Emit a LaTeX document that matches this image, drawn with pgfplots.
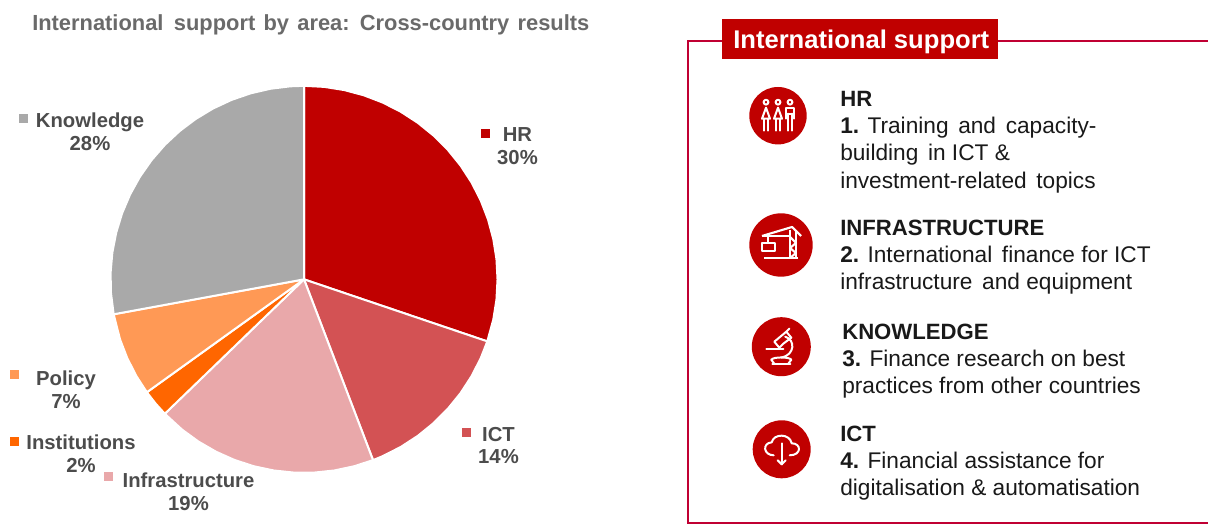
\documentclass[border=0pt]{standalone}
\usepackage{pgfplots}
\pgfplotsset{compat=1.18}
\usepgfplotslibrary{polar}
\usepackage{fontspec}
\setmainfont{Liberation Sans}
\definecolor{cHR}{HTML}{C00000}
\definecolor{cICT}{HTML}{D35254}
\definecolor{cInf}{HTML}{E9A8AA}
\definecolor{cIns}{HTML}{FF6600}
\definecolor{cPol}{HTML}{FF9955}
\definecolor{cKno}{HTML}{A9A9A9}
\definecolor{cTxt}{HTML}{595959}
\definecolor{cFrame}{HTML}{C00033}
\newcommand{\lab}[3]{\node[align=center,font=\fontsize{15.2pt}{17.2pt}\selectfont\bfseries,text=cTxt!85!black,inner sep=0pt] at (axis cs:#1,#2) {#3};}
\newcommand{\rtxt}[4]{\node[anchor=base west,inner sep=0pt,font=\fontsize{#4}{#4}\selectfont,text=black!90] at (axis cs:#1,#2) {#3};}
\newcommand{\key}[3]{\addplot[only marks,mark=square*,mark size=3pt,color=#1] coordinates {(#2,#3)};}
\begin{document}
\begin{tikzpicture}[x=0.75pt,y=0.75pt]
\path[use as bounding box] (0,0) rectangle (1208,525);
\begin{polaraxis}[at={(303.2,245)},anchor=center,scale only axis,width=289.5pt,height=289.5pt,
  hide axis,xmin=0,xmax=360,ymin=0,ymax=193,clip=false]
\addplot[fill=cHR,draw=white,line width=1.5pt] coordinates {(90,0)(90,193)(84,193)(78,193)(72,193)(66,193)(60,193)(54,193)(48,193)(42,193)(36,193)(30,193)(24,193)(18,193)(12,193)(6,193)(0,193)(-6,193)(-12,193)(-18.7,193)(-18.7,0)};
\addplot[fill=cICT,draw=white,line width=1.5pt] coordinates {(-18.7,0)(-18.7,193)(-24,193)(-30,193)(-36,193)(-42,193)(-48,193)(-54,193)(-60,193)(-66,193)(-69.1,193)(-69.1,0)};
\addplot[fill=cInf,draw=white,line width=1.5pt] coordinates {(-69.1,0)(-69.1,193)(-75,193)(-81,193)(-87,193)(-93,193)(-99,193)(-105,193)(-111,193)(-117,193)(-123,193)(-129,193)(-136,193)(-136,0)};
\addplot[fill=cIns,draw=white,line width=1.5pt] coordinates {(-136,0)(-136,193)(-140,193)(-144.3,193)(-144.3,0)};
\addplot[fill=cPol,draw=white,line width=1.5pt] coordinates {(-144.3,0)(-144.3,193)(-150,193)(-156,193)(-162,193)(-169.6,193)(-169.6,0)};
\addplot[fill=cKno,draw=white,line width=1.5pt] coordinates {(-169.6,0)(-169.6,193)(-176,193)(-182,193)(-188,193)(-194,193)(-200,193)(-206,193)(-212,193)(-218,193)(-224,193)(-230,193)(-236,193)(-242,193)(-248,193)(-254,193)(-260,193)(-266,193)(-270,193)(-270,0)};
\end{polaraxis}
\begin{axis}[at={(0,0)},anchor=south west,scale only axis,width=906pt,height=393.75pt,hide axis,
  xmin=0,xmax=1208,ymin=0,ymax=525,y dir=reverse,clip=false]
\key{cHR}{485}{133}
\key{cICT}{466}{432}
\key{cInf}{108}{476}
\key{cIns}{14}{441}
\key{cPol}{14}{374}
\key{cKno}{23}{118}
\lab{517.5}{146.5}{HR\\30\%}
\lab{498.5}{445.5}{ICT\\14\%}
\lab{188.5}{491.5}{Infrastructure\\19\%}
\lab{81}{453.5}{Institutions\\2\%}
\lab{66}{389.5}{Policy\\7\%}
\lab{90}{131.5}{Knowledge\\28\%}
\node[anchor=base west,inner sep=0pt,text=cTxt!90,font=\fontsize{16.4pt}{18pt}\selectfont\bfseries] at (axis cs:32,30) {International\hspace{0.2em} support\hspace{0.1em} by\hspace{0.1em} area:\hspace{0.1em} Cross-country\hspace{0.1em} results};
\draw[cFrame,line width=2.1pt] (axis cs:1208,41)--(axis cs:688,41)--(axis cs:688,523)--(axis cs:1208,523);
\fill[cHR] (axis cs:722,19) rectangle (axis cs:998,59);
\node[anchor=base west,inner sep=0pt,text=white,font=\fontsize{19.2pt}{18pt}\selectfont\bfseries] at (axis cs:733,48) {International support};
\rtxt{840}{106.7}{\textbf{HR}}{16.6pt}
\rtxt{840}{133.7}{\textbf{1.} Training\hspace{0.15em} and\hspace{0.15em} capacity-}{17pt}
\rtxt{840}{160.7}{building\hspace{0.15em} in ICT \&}{17pt}
\rtxt{840}{188.7}{investment-related\hspace{0.15em} topics}{17pt}
\rtxt{840}{235.7}{\textbf{INFRASTRUCTURE}}{16.6pt}
\rtxt{840}{262.7}{\textbf{2.} International\hspace{0.15em} finance for ICT}{17pt}
\rtxt{840}{289.7}{infrastructure\hspace{0.15em} and equipment}{17pt}
\rtxt{842}{339.7}{\textbf{KNOWLEDGE}}{16.6pt}
\rtxt{842}{366.7}{\textbf{3.} Finance research on best}{17pt}
\rtxt{842}{393.7}{practices from other countries}{17pt}
\rtxt{840}{441.7}{\textbf{ICT}}{16.6pt}
\rtxt{840}{468.7}{\textbf{4.} Financial assistance for}{17pt}
\rtxt{840}{495.7}{digitalisation \& automatisation}{17pt}
\end{axis}
% icons, in picture pixels
\fill[cHR] (778,409.3) circle[radius=28.7];
\fill[cHR] (781,280) circle[radius=31.7];
\fill[cHR] (781.3,178.3) circle[radius=29.5];
\fill[cHR] (781.7,75.7) circle[radius=29];
\begin{scope}[shift={(778,409.3)},y=-0.75pt,draw=white,line width=1.5pt,line cap=round,line join=round]
\foreach \d in {-12,0,12}{\draw (\d,-13.5) circle[radius=2.4];}
\foreach \d in {-12,0}{\draw (\d,-8)--(\d-4,3)--(\d+4,3)--cycle; \draw (\d-2,3)--(\d-2,15); \draw (\d+2,3)--(\d+2,15);}
\draw (8,3)--(8,-8)--(16,-8)--(16,3); \draw (8,-2)--(16,-2); \draw (10,-2)--(10,15); \draw (14,-2)--(14,15);
\end{scope}
\begin{scope}[shift={(781,280)},y=-0.75pt,draw=white,line width=1.6pt,line join=round]
\draw (-17,13)--(17,13);
\draw (9,13)--(9,-15); \draw (15,13)--(15,-15);
\draw (9,-8)--(15,-2)--(9,3)--(15,8)--(9,13);
\draw (-19,-9)--(11,-18)--(20,-9);
\draw (-19,-9)--(9,-9);
\draw (-13,-9)--(-13,-2);
\draw (-19,-2) rectangle (-6,6);
\end{scope}
\begin{scope}[shift={(781.3,178.3)},y=-0.75pt,draw=white,line width=1.5pt,line join=round,line cap=round]
\draw (-15,2)--(2,2);
\draw (4,-10) .. controls (14,-7) and (14,8) .. (0,11);
\draw (-2,1)--(-7,-5)--(5,-15)--(10,-9)--(2,-3)--cycle;
\draw (5,-15)--(8,-18);
\draw (-10,13) .. controls (-8,10) and (8,10) .. (10,13);
\draw (-9,17)--(9,17);
\draw (-10,13) -- (-7,17); \draw (10,13) -- (7,17);
\end{scope}
\begin{scope}[shift={(781.7,75.7)},y=-0.75pt,draw=white,line width=1.5pt,line cap=round,line join=round]
\draw (-8,6) .. controls (-18,6) and (-20,-6) .. (-10,-7) .. controls (-8,-16) and (8,-16) .. (10,-6) .. controls (20,-6) and (20,6) .. (8,6);
\draw (0,-6)--(0,15);
\draw (-4,11)--(0,15)--(4,11);
\end{scope}
\end{tikzpicture}
\end{document}
